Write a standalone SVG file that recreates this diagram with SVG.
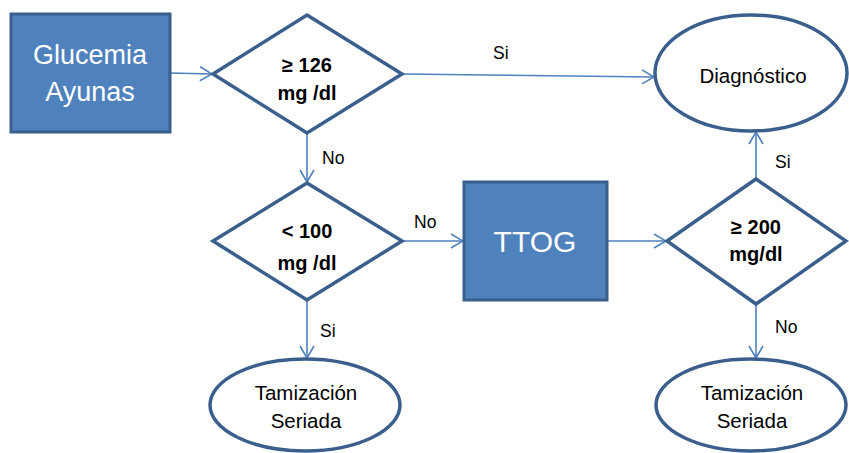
<svg xmlns="http://www.w3.org/2000/svg" width="849" height="453" viewBox="0 0 849 453">
  <style>
    .box { fill: #4F81BD; stroke: #3A5F8C; stroke-width: 3; }
    .shape { fill: #FFFFFF; stroke: #3A5F8C; stroke-width: 3.5; }
    .link { fill: none; stroke: #4F81BD; stroke-width: 1.6; }
    .boxtext { font-family: "Liberation Sans", Arial, sans-serif; fill: #FFFFFF; text-anchor: middle; }
    .dtext { font-family: "Liberation Sans", Arial, sans-serif; font-weight: bold; font-size: 20px; fill: #000000; text-anchor: middle; }
    .etext { font-family: "Liberation Sans", Arial, sans-serif; font-size: 20.5px; fill: #000000; text-anchor: middle; }
    .label { font-family: "Liberation Sans", Arial, sans-serif; font-size: 17.5px; fill: #000000; }
  </style>
  <defs>
    <marker id="arrow" viewBox="0 0 14 16" refX="13" refY="8" markerWidth="14" markerHeight="16" markerUnits="userSpaceOnUse" orient="auto">
      <path d="M1,1 L13,8 L1,15" fill="none" stroke="#4F81BD" stroke-width="1.6"/>
    </marker>
  </defs>

  <rect width="849" height="453" fill="#FFFFFF"/>

  <!-- connectors -->
  <g id="connectors">
    <line class="link" x1="170" y1="73" x2="212" y2="74" marker-end="url(#arrow)"/>
    <line class="link" x1="402" y1="74" x2="654" y2="77" marker-end="url(#arrow)"/>
    <line class="link" x1="307" y1="133" x2="307" y2="182" marker-end="url(#arrow)"/>
    <line class="link" x1="402" y1="241" x2="463" y2="241" marker-end="url(#arrow)"/>
    <line class="link" x1="307" y1="300" x2="307" y2="358" marker-end="url(#arrow)"/>
    <line class="link" x1="607" y1="241" x2="666" y2="241" marker-end="url(#arrow)"/>
    <line class="link" x1="756" y1="179" x2="756" y2="132" marker-end="url(#arrow)"/>
    <line class="link" x1="756" y1="304" x2="756" y2="358" marker-end="url(#arrow)"/>
    <text class="label" x="493" y="59">Si</text>
    <text class="label" x="322" y="164">No</text>
    <text class="label" x="414" y="228">No</text>
    <text class="label" x="320" y="337">Si</text>
    <text class="label" x="775" y="168">Si</text>
    <text class="label" x="775" y="333">No</text>
  </g>

  <!-- start: fasting glucose -->
  <g id="glucemia">
    <rect class="box" x="11" y="14" width="159" height="118"/>
    <text class="boxtext" x="90" y="64" font-size="27">Glucemia</text>
    <text class="boxtext" x="90" y="101" font-size="27">Ayunas</text>
  </g>

  <!-- decision: >= 126 mg/dl -->
  <g id="dec126">
    <polygon class="shape" points="307,15 402,74 307,133 213,74"/>
    <text class="dtext" x="307" y="72">≥ 126</text>
    <text class="dtext" x="307" y="100">mg /dl</text>
  </g>

  <!-- outcome: diagnosis -->
  <g id="diagnostico">
    <ellipse class="shape" cx="751" cy="73" rx="96" ry="58"/>
    <text class="etext" x="753" y="83" font-size="21.5">Diagnóstico</text>
  </g>

  <!-- decision: < 100 mg/dl -->
  <g id="dec100">
    <polygon class="shape" points="307,183 402,241 307,300 213,241"/>
    <text class="dtext" x="307" y="238">&lt; 100</text>
    <text class="dtext" x="307" y="270">mg /dl</text>
  </g>

  <!-- oral glucose tolerance test -->
  <g id="ttog">
    <rect class="box" x="464" y="182" width="143" height="118"/>
    <text class="boxtext" x="535" y="252" font-size="30">TTOG</text>
  </g>

  <!-- decision: >= 200 mg/dl -->
  <g id="dec200">
    <polygon class="shape" points="756,179 846,241 756,304 667,241"/>
    <text class="dtext" x="756" y="234">≥ 200</text>
    <text class="dtext" x="756" y="261">mg/dl</text>
  </g>

  <!-- outcome: serial screening (left) -->
  <g id="tamizacion1">
    <ellipse class="shape" cx="305" cy="405" rx="95" ry="46"/>
    <text class="etext" x="306" y="400">Tamización</text>
    <text class="etext" x="306" y="428">Seriada</text>
  </g>

  <!-- outcome: serial screening (right) -->
  <g id="tamizacion2">
    <ellipse class="shape" cx="751" cy="405" rx="95" ry="46"/>
    <text class="etext" x="752" y="400">Tamización</text>
    <text class="etext" x="752" y="428">Seriada</text>
  </g>
</svg>
